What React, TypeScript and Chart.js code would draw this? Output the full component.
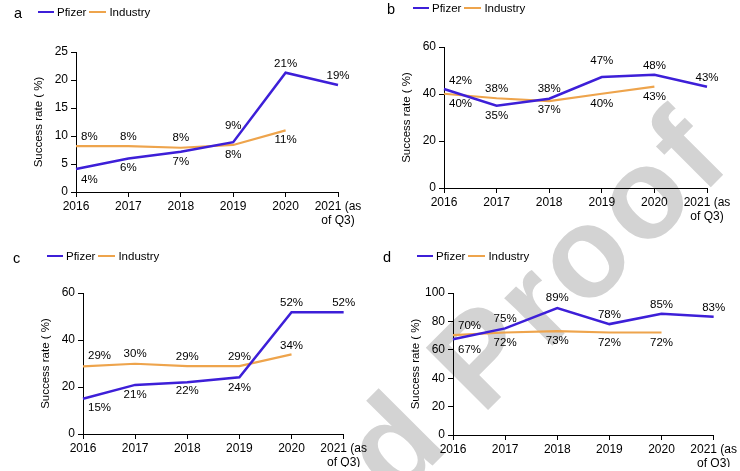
import React, { useEffect, useRef } from "react";
import { Chart, registerables } from "chart.js";

Chart.register(...registerables);

const FONT = '"Liberation Sans", Arial, Helvetica, sans-serif';
Chart.defaults.font.family = FONT;
Chart.defaults.color = "#000";

// ---------- DATA ----------
const years: (string | string[])[] = ["2016", "2017", "2018", "2019", "2020", ["2021 (as", "of Q3)"]];

const pfizerA = [4.1, 6.0, 7.2, 8.9, 21.3, 19.1];
const industryA = [8.2, 8.2, 7.9, 8.4, 11.0];
const yTicksA = [0, 5, 10, 15, 20, 25];

const pfizerB = [42.1, 35.0, 38.0, 47.2, 48.2, 43.1];
const industryB = [40.1, 38.2, 37.0, 40.1, 43.1];
const yTicksB = [0, 20, 40, 60];

const pfizerC = [15.0, 20.9, 22.0, 24.1, 51.8, 51.8];
const industryC = [28.8, 29.9, 28.9, 28.9, 33.9];
const yTicksC = [0, 20, 40, 60];

const pfizerD = [67.4, 75.1, 89.4, 78.1, 85.4, 83.3];
const industryD = [70.4, 72.2, 73.2, 72.2, 72.2];
const yTicksD = [0, 20, 40, 60, 80, 100];

// label placement (px above the point; negative = below)
const pfizerLabA = [-11, -9, -10, 16, 9, 9];
const industryLabA = [9, 9, 10, -10, -9];
const pfizerLabB = [8, -10, 10, 16, 9, 9];
const industryLabB = [-10, 9, -9, -10, -10];
const pfizerLabC = [-9, -10, -9, -10, 9, 9];
const industryLabC = [10, 10, 9, 9, 9];
const pfizerLabD = [-11, 10, 10, 9, 9, 9];
const industryLabD = [9, -10, -10, -10, -10];

const PFIZER = "#3d1fd8";
const INDUSTRY = "#eea44c";

type Rect = { x: number; y: number; w: number; h: number };
type PanelDef = {
  letter: string;
  canvas: Rect;
  plot: { l: number; t: number; r: number; b: number };
  letterPos: { x: number; cy: number };
  legendPos: { x: number; cy: number };
  pfizer: number[];
  industry: number[];
  pfizerLab: number[];
  industryLab: number[];
  yTicks: number[];
};

const panels: PanelDef[] = [
  {
    letter: "a",
    canvas: { x: 0, y: 0, w: 370, h: 235 },
    plot: { l: 76, t: 52, r: 338, b: 192 },
    letterPos: { x: 14, cy: 13 },
    legendPos: { x: 38, cy: 12 },
    pfizer: pfizerA, industry: industryA, pfizerLab: pfizerLabA, industryLab: industryLabA, yTicks: yTicksA,
  },
  {
    letter: "b",
    canvas: { x: 370, y: 0, w: 370, h: 235 },
    plot: { l: 444, t: 47, r: 707, b: 188 },
    letterPos: { x: 387, cy: 9 },
    legendPos: { x: 413, cy: 8 },
    pfizer: pfizerB, industry: industryB, pfizerLab: pfizerLabB, industryLab: industryLabB, yTicks: yTicksB,
  },
  {
    letter: "c",
    canvas: { x: 0, y: 235, w: 370, h: 236 },
    plot: { l: 83, t: 293, r: 347, b: 434 },
    letterPos: { x: 13, cy: 258 },
    legendPos: { x: 47, cy: 256 },
    pfizer: pfizerC, industry: industryC, pfizerLab: pfizerLabC, industryLab: industryLabC, yTicks: yTicksC,
  },
  {
    letter: "d",
    canvas: { x: 370, y: 235, w: 370, h: 236 },
    plot: { l: 453, t: 293, r: 717, b: 435 },
    letterPos: { x: 383, cy: 257 },
    legendPos: { x: 417, cy: 256 },
    pfizer: pfizerD, industry: industryD, pfizerLab: pfizerLabD, industryLab: industryLabD, yTicks: yTicksD,
  },
];

const labelPlugin = {
  id: "pctLabels",
  afterDatasetsDraw(chart: any) {
    const ctx = chart.ctx;
    ctx.save();
    ctx.font = `11.5px ${FONT}`;
    ctx.fillStyle = "#000";
    ctx.textBaseline = "middle";
    chart.data.datasets.forEach((ds: any, i: number) => {
      const meta = chart.getDatasetMeta(i);
      meta.data.forEach((pt: any, j: number) => {
        const v = ds.data[j];
        const text = Math.round(v) + "%";
        let x = pt.x;
        if (j === 0) {
          ctx.textAlign = "left";
          x += 5;
        } else {
          ctx.textAlign = "center";
        }
        ctx.fillText(text, x, pt.y - ds.labelOffsets[j]);
      });
    });
    ctx.restore();
  },
};

function Panel({ def }: { def: PanelDef }) {
  const ref = useRef<HTMLCanvasElement | null>(null);
  useEffect(() => {
    if (!ref.current) return;
    const c = def.canvas;
    const padL = 4;
    const padB = 4;
    const padT = def.plot.t - c.y;
    const padR = c.x + c.w - def.plot.r;
    const yWidth = def.plot.l - c.x - padL;
    const xHeight = c.y + c.h - padB - def.plot.b;
    const titleCenter = def.plot.l - 37 - c.x;
    const titleLH = 11.5 * 1.2;
    const titlePad = titleCenter - padL - titleLH / 2;
    const yt = def.yTicks;

    const chart = new Chart(ref.current, {
      type: "line",
      data: {
        labels: years as any,
        datasets: [
          {
            label: "Pfizer",
            data: def.pfizer,
            borderColor: PFIZER,
            backgroundColor: PFIZER,
            borderWidth: 2.5,
            pointRadius: 0,
            tension: 0,
            labelOffsets: def.pfizerLab,
          } as any,
          {
            label: "Industry",
            data: def.industry,
            borderColor: INDUSTRY,
            backgroundColor: INDUSTRY,
            borderWidth: 2.2,
            pointRadius: 0,
            tension: 0,
            labelOffsets: def.industryLab,
          } as any,
        ],
      },
      options: {
        animation: false,
        responsive: true,
        maintainAspectRatio: false,
        layout: { padding: { left: padL, right: padR, top: padT, bottom: padB } },
        plugins: { legend: { display: false }, tooltip: { enabled: false } },
        scales: {
          x: {
            offset: false,
            grid: { drawOnChartArea: false, color: "#000", tickLength: 5, lineWidth: 1 },
            border: { color: "#000", width: 1 },
            ticks: {
              color: "#000",
              font: { size: 12, lineHeight: 1.15 },
              padding: 3,
              maxRotation: 0,
              minRotation: 0,
              autoSkip: false,
            },
            afterFit: (s: any) => {
              s.height = xHeight;
            },
          },
          y: {
            min: yt[0],
            max: yt[yt.length - 1],
            grid: { drawOnChartArea: false, color: "#000", tickLength: 5, lineWidth: 1 },
            border: { color: "#000", width: 1 },
            ticks: { color: "#000", font: { size: 12 }, padding: 3 },
            afterBuildTicks: (s: any) => {
              s.ticks = yt.map((v) => ({ value: v }));
            },
            title: {
              display: true,
              text: "Success rate ( %)",
              color: "#000",
              font: { size: 11.5 },
              padding: { top: titlePad, bottom: 0 },
            },
            afterFit: (s: any) => {
              s.width = yWidth;
            },
          },
        },
      },
      plugins: [labelPlugin],
    });
    return () => chart.destroy();
  }, [def]);

  const c = def.canvas;
  return (
    <>
      <div style={{ position: "absolute", left: c.x, top: c.y, width: c.w, height: c.h }}>
        <canvas ref={ref} />
      </div>
      <div
        style={{
          position: "absolute",
          left: def.letterPos.x,
          top: def.letterPos.cy - 10,
          height: 20,
          lineHeight: "20px",
          fontSize: 14.5,
          fontFamily: FONT,
          color: "#000",
        }}
      >
        {def.letter}
      </div>
      <div
        style={{
          position: "absolute",
          left: def.legendPos.x,
          top: def.legendPos.cy - 8,
          height: 16,
          display: "flex",
          alignItems: "center",
          fontSize: 11.5,
          fontFamily: FONT,
          color: "#000",
          whiteSpace: "nowrap",
        }}
      >
        <span style={{ display: "inline-block", width: 16, height: 2.5, background: PFIZER, marginRight: 3 }} />
        <span style={{ marginRight: 3 }}>Pfizer</span>
        <span style={{ display: "inline-block", width: 17, height: 2, background: INDUSTRY, marginRight: 3 }} />
        <span>Industry</span>
      </div>
    </>
  );
}

// watermark anchor: baseline start of "Proof"
const WM_X = 482;
const WM_Y = 416;
const WM_SIZE = 128;

export default function App() {
  const gap = (0.278 * WM_SIZE + 4) * Math.SQRT1_2;
  return (
    <div
      style={{
        position: "absolute",
        left: 0,
        top: 0,
        width: 740,
        height: 471,
        overflow: "hidden",
        background: "#fff",
      }}
    >
      <svg width={740} height={471} style={{ position: "absolute", left: 0, top: 0 }}>
        <text
          x={WM_X}
          y={WM_Y}
          textAnchor="start"
          transform={`rotate(-45 ${WM_X} ${WM_Y})`}
          fontFamily={FONT}
          fontWeight="bold"
          fontSize={WM_SIZE}
          letterSpacing={5}
          fill="#d3d3d3"
        >
          Proof
        </text>
        <text
          x={WM_X - gap}
          y={WM_Y + gap}
          textAnchor="end"
          transform={`rotate(-45 ${WM_X - gap} ${WM_Y + gap})`}
          fontFamily={FONT}
          fontWeight="bold"
          fontSize={WM_SIZE}
          letterSpacing={5}
          fill="#d3d3d3"
        >
          Uncorrected
        </text>
      </svg>
      {panels.map((p) => (
        <Panel key={p.letter} def={p} />
      ))}
    </div>
  );
}
